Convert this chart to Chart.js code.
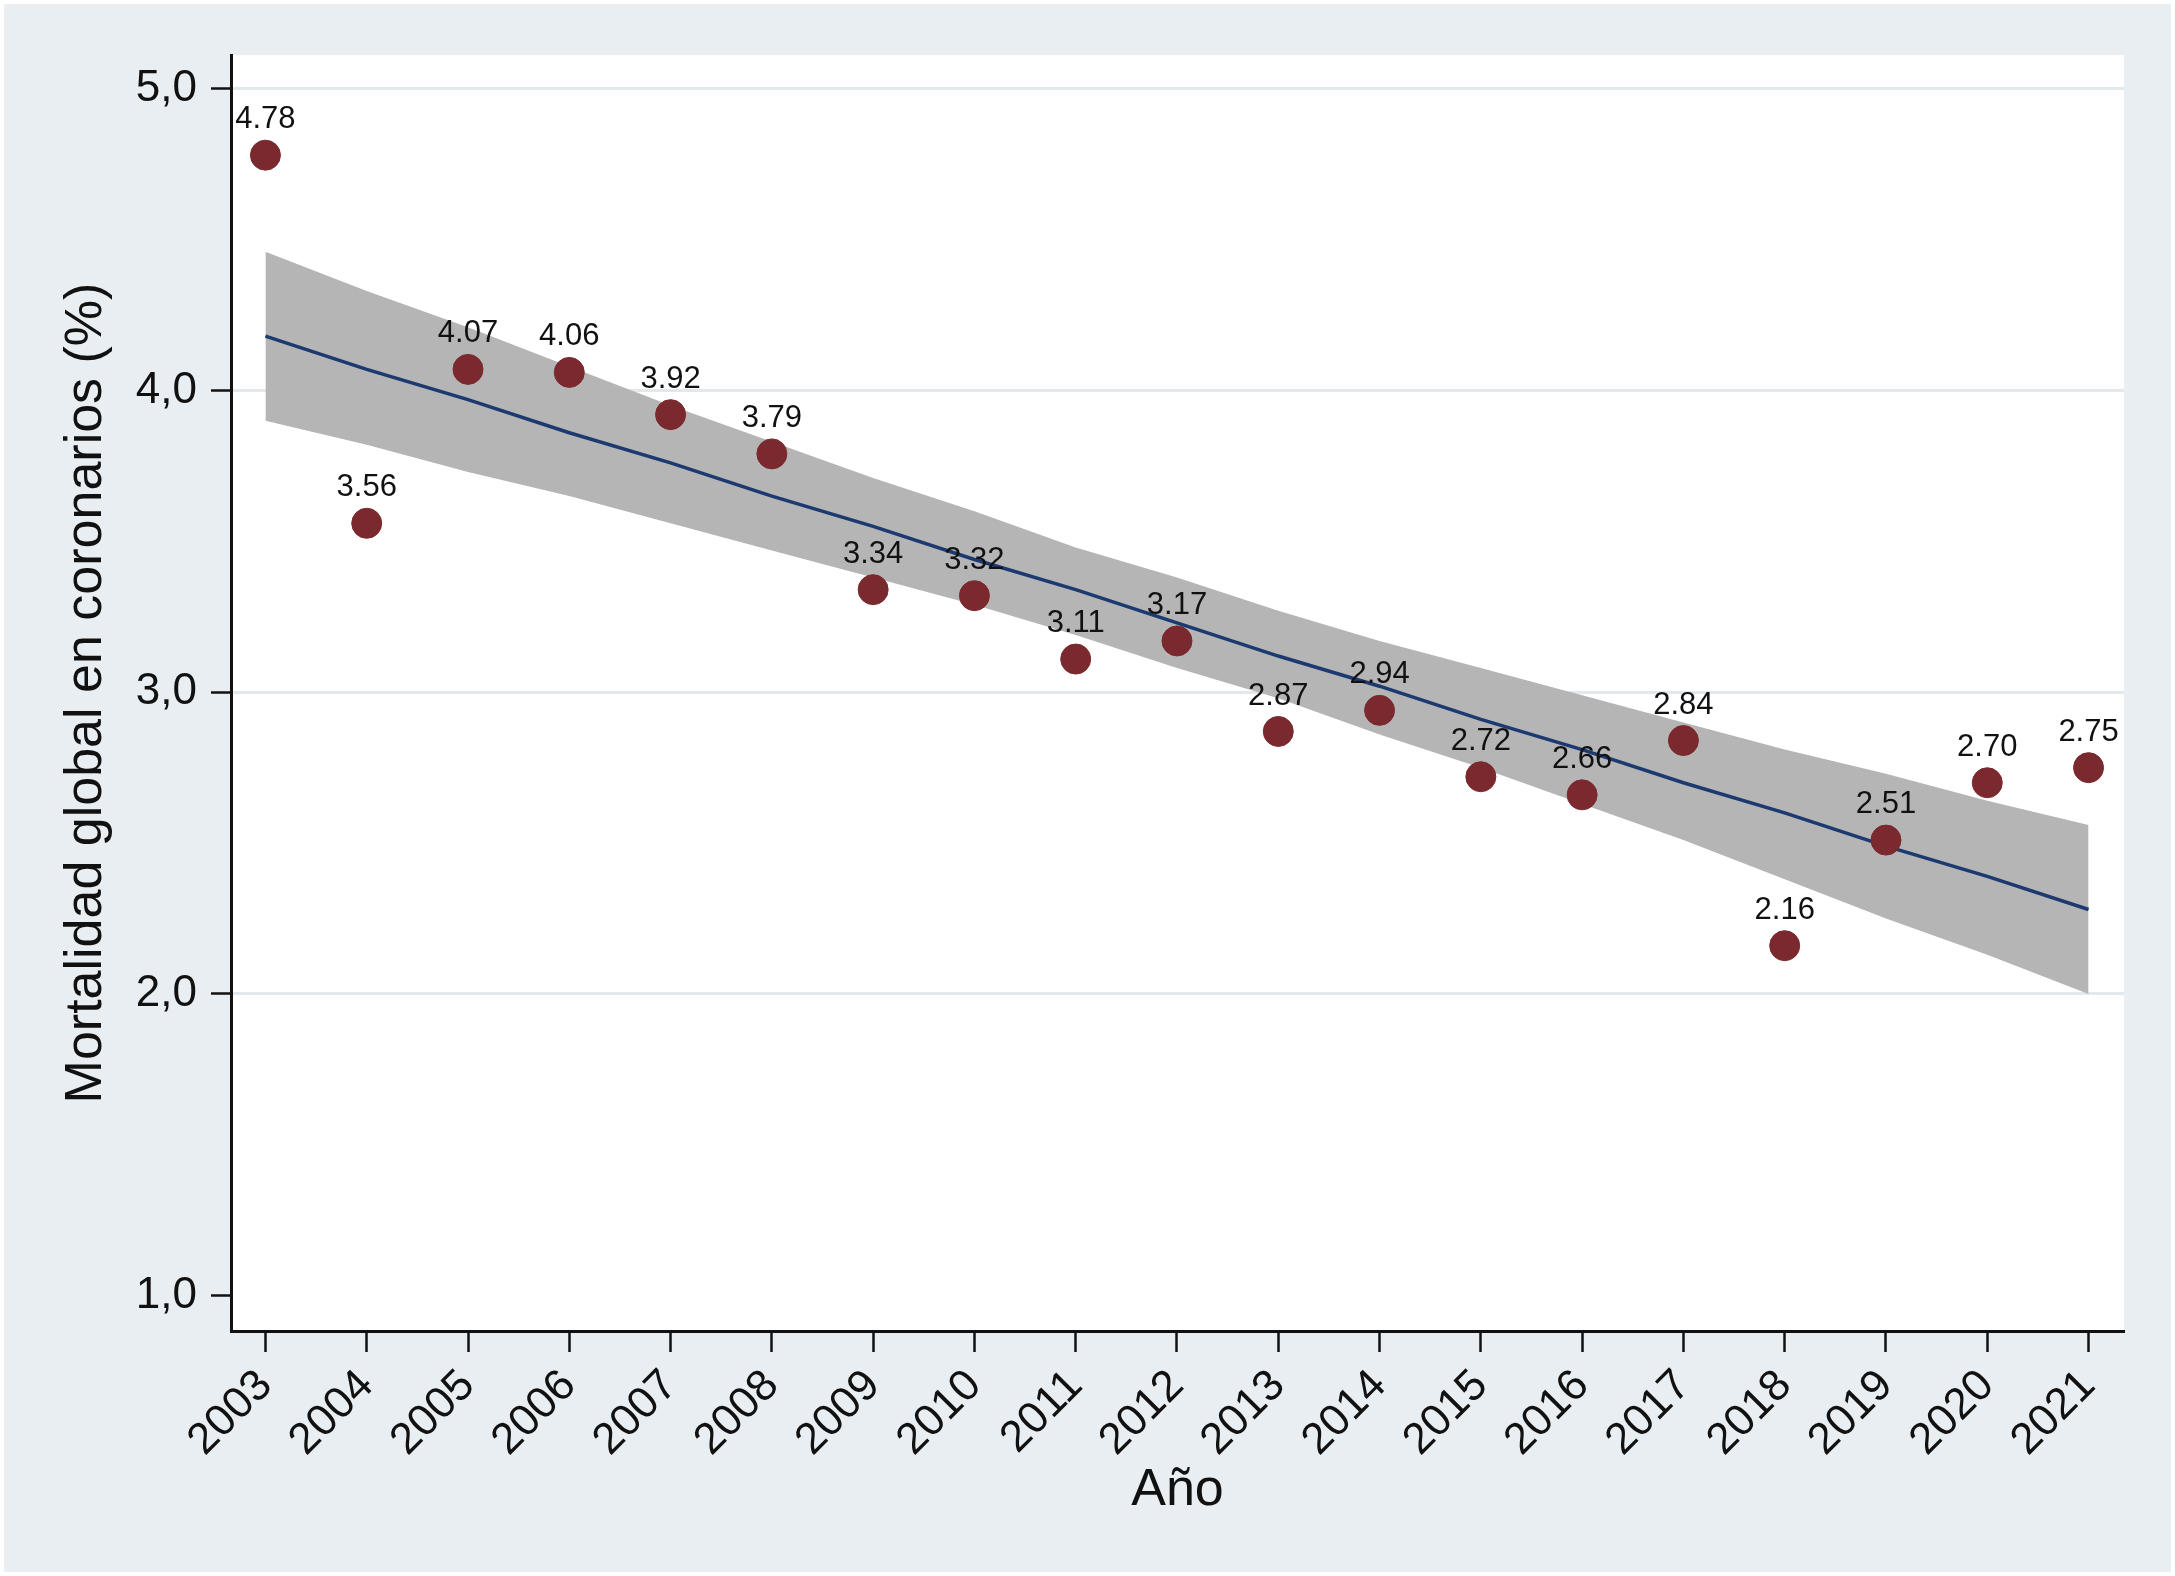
<!DOCTYPE html>
<html>
<head>
<meta charset="UTF-8">
<title>Mortalidad global en coronarios</title>
<!-- Chart.js library -->
<script src="https://cdn.jsdelivr.net/npm/chart.js"></script>
<style>
    body { margin: 0; background: #ffffff; }
    #chartBox { width: 2175px; height: 1576px; }
</style>
</head>
<body>
<div id="chartBox">
    <canvas id="mortChart" width="2175" height="1576"></canvas>
</div>

<script>
    // Years and observed mortality (%)
    const years = [2003, 2004, 2005, 2006, 2007, 2008, 2009, 2010, 2011, 2012,
                   2013, 2014, 2015, 2016, 2017, 2018, 2019, 2020, 2021];
    const mortality = [4.78, 3.56, 4.07, 4.06, 3.92, 3.79, 3.34, 3.32, 3.11, 3.17,
                       2.87, 2.94, 2.72, 2.66, 2.84, 2.16, 2.51, 2.70, 2.75];

    // Linear fit and its 95% band
    const fitLine = [4.18, 4.07, 3.97, 3.86, 3.76, 3.65, 3.55, 3.44, 3.34, 3.23,
                     3.12, 3.02, 2.91, 2.81, 2.70, 2.60, 2.49, 2.39, 2.28];
    const ciUpper = [4.46, 4.33, 4.21, 4.08, 3.95, 3.83, 3.71, 3.60, 3.48, 3.38,
                     3.27, 3.17, 3.08, 2.99, 2.90, 2.81, 2.73, 2.64, 2.56];
    const ciLower = [3.90, 3.82, 3.73, 3.65, 3.56, 3.47, 3.38, 3.29, 3.19, 3.08,
                     2.98, 2.86, 2.75, 2.63, 2.51, 2.38, 2.25, 2.13, 2.00];

    const yTicks = [1, 2, 3, 4, 5];

    const FONT = '"Liberation Sans", Arial, Helvetica, sans-serif';

    const toXY = (arr) => arr.map((v, i) => ({ x: years[i], y: v }));

    // background: light grey-blue frame and white plot region
    const bgPlugin = {
        id: 'bg',
        beforeDraw(chart) {
            const c = chart.ctx;
            const a = chart.chartArea;
            c.save();
            c.fillStyle = '#ffffff';
            c.fillRect(0, 0, chart.width, chart.height);
            c.fillStyle = '#e8eef1';
            c.fillRect(4, 4, chart.width - 8, chart.height - 8);
            c.fillStyle = '#ffffff';
            c.fillRect(a.left, a.top, a.right - a.left, a.bottom - a.top);
            c.restore();
        }
    };

    // value labels above the points
    const valueLabels = {
        id: 'valueLabels',
        afterDatasetsDraw(chart) {
            const c = chart.ctx;
            const meta = chart.getDatasetMeta(0);
            c.save();
            c.font = '31px ' + FONT;
            c.fillStyle = '#111111';
            c.textAlign = 'center';
            c.textBaseline = 'bottom';
            meta.data.forEach((pt, i) => {
                c.fillText(mortality[i].toFixed(2), pt.x, pt.y - 20);
            });
            c.restore();
        }
    };

    const ctx = document.getElementById('mortChart').getContext('2d');
    const mortChart = new Chart(ctx, {
        type: 'scatter',
        data: {
            datasets: [
                {
                    label: 'Mortalidad',
                    data: toXY(mortality),
                    backgroundColor: '#7a2a2f',
                    borderColor: '#7a2a2f',
                    pointRadius: 15,
                    pointHoverRadius: 15,
                    order: 0
                },
                {
                    label: 'Ajuste lineal',
                    type: 'line',
                    data: toXY(fitLine),
                    borderColor: '#1c3a70',
                    borderWidth: 3.5,
                    pointRadius: 0,
                    fill: false,
                    order: 1
                },
                {
                    label: 'IC superior',
                    type: 'line',
                    data: toXY(ciUpper),
                    borderWidth: 0,
                    borderColor: 'rgba(0,0,0,0)',
                    pointRadius: 0,
                    fill: false,
                    order: 2
                },
                {
                    label: 'IC inferior',
                    type: 'line',
                    data: toXY(ciLower),
                    borderWidth: 0,
                    borderColor: 'rgba(0,0,0,0)',
                    backgroundColor: '#b5b5b5',
                    pointRadius: 0,
                    fill: '-1',
                    order: 3
                }
            ]
        },
        options: {
            responsive: false,
            maintainAspectRatio: false,
            animation: false,
            devicePixelRatio: 1,
            layout: { padding: { left: 0, top: 55, right: 51, bottom: 0 } },
            plugins: {
                legend: { display: false },
                tooltip: { enabled: false }
            },
            scales: {
                x: {
                    type: 'linear',
                    min: 2002.66,
                    max: 2021.35,
                    afterBuildTicks(scale) {
                        scale.ticks = years.map(v => ({ value: v }));
                    },
                    afterFit(scale) { scale.height = 245; },
                    ticks: {
                        callback: (v) => String(v),
                        minRotation: 45,
                        maxRotation: 45,
                        autoSkip: false,
                        padding: 8,
                        color: '#111111',
                        font: { family: FONT, size: 44 }
                    },
                    grid: {
                        drawOnChartArea: false,
                        tickLength: 21,
                        tickWidth: 2.5,
                        tickColor: '#111111'
                    },
                    border: { display: true, color: '#111111', width: 3 },
                    title: {
                        display: true,
                        text: 'Año',
                        color: '#111111',
                        font: { family: FONT, size: 52 },
                        padding: { top: 0, bottom: 54 }
                    }
                },
                y: {
                    min: 0.883,
                    max: 5.112,
                    afterBuildTicks(scale) {
                        scale.ticks = yTicks.map(v => ({ value: v }));
                    },
                    afterFit(scale) { scale.width = 231; },
                    ticks: {
                        callback: (v) => v.toFixed(1).replace('.', ','),
                        padding: 14,
                        color: '#111111',
                        font: { family: FONT, size: 44 }
                    },
                    grid: {
                        color: (c) => (c.tick && c.tick.value === 1) ? 'rgba(0,0,0,0)' : '#e2e9ec',
                        lineWidth: 3,
                        tickLength: 20,
                        tickWidth: 2.5,
                        tickColor: '#111111'
                    },
                    border: { display: true, color: '#111111', width: 3 },
                    title: {
                        display: true,
                        text: 'Mortalidad global en coronarios (%)',
                        color: '#111111',
                        font: { family: FONT, size: 52 },
                        padding: { top: 55, bottom: 0 }
                    }
                }
            }
        },
        plugins: [bgPlugin, valueLabels]
    });
</script>
</body>
</html>
